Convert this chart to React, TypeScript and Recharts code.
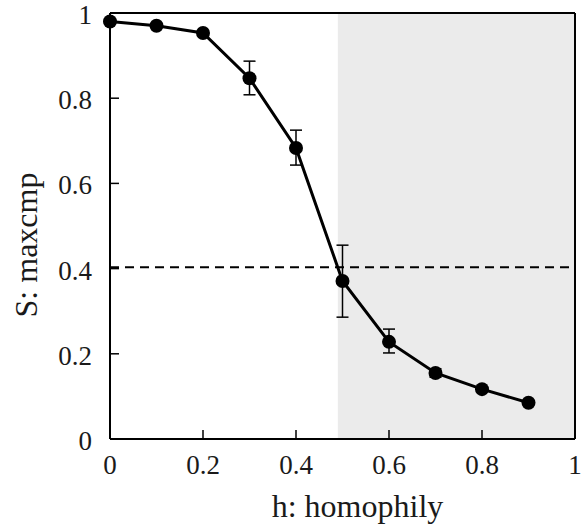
import React from "react";
import {
  ComposedChart,
  Line,
  XAxis,
  YAxis,
  ErrorBar,
  ReferenceArea,
  ReferenceLine,
  Label,
} from "recharts";

// h: homophily
const H = [0, 0.1, 0.2, 0.3, 0.4, 0.5, 0.6, 0.7, 0.8, 0.9];
// S: maxcmp (mean)
const S = [0.98, 0.97, 0.953, 0.847, 0.683, 0.371, 0.228, 0.155, 0.117, 0.085];
// error bar bounds
const S_LOW = [0.98, 0.97, 0.953, 0.808, 0.643, 0.286, 0.202, 0.145, 0.112, 0.081];
const S_HIGH = [0.98, 0.97, 0.953, 0.887, 0.725, 0.455, 0.258, 0.165, 0.122, 0.089];

const X_TICKS = [0, 0.2, 0.4, 0.6, 0.8, 1];
const Y_TICKS = [0, 0.2, 0.4, 0.6, 0.8, 1];
const THRESHOLD = 0.403;
const SHADE_FROM = 0.49;

const data = H.map((h, i) => ({
  h,
  s: S[i],
  err: [S[i] - S_LOW[i], S_HIGH[i] - S[i]],
}));

const FONT = "Liberation Serif";
const TEXT = "#1a1a1a";
const fmt = (v: number) => (v === 0 || v === 1 ? String(v) : v.toFixed(1));

// ticks point into the plot, labels sit outside
function XTick({ x, y, payload }: any) {
  return (
    <g>
      <line x1={x} y1={y} x2={x} y2={y - 9} stroke="#000" strokeWidth={1.5} />
      <text x={x} y={y + 35} textAnchor="middle" fontFamily={FONT} fontSize={27} fill={TEXT}>
        {fmt(payload.value)}
      </text>
    </g>
  );
}

function YTick({ x, y, payload }: any) {
  return (
    <g>
      <line x1={x} y1={y} x2={x + 9} y2={y} stroke="#000" strokeWidth={1.5} />
      <text x={x - 18} y={y + 11} textAnchor="end" fontFamily={FONT} fontSize={27} fill={TEXT}>
        {fmt(payload.value)}
      </text>
    </g>
  );
}

export default function App() {
  return (
    <div style={{ position: "absolute", left: 0, top: 0 }}>
      <ComposedChart
        width={585}
        height={527}
        data={data}
        margin={{ top: 13, right: 10, left: 0, bottom: 0 }}
      >
        <ReferenceArea
          x1={SHADE_FROM}
          x2={1}
          y1={0}
          y2={1}
          fill="#ebebeb"
          fillOpacity={1}
          stroke="none"
        />
        <ReferenceLine y={1} stroke="#000" strokeWidth={2} />
        <ReferenceLine x={1} stroke="#000" strokeWidth={2} />
        <ReferenceLine
          y={THRESHOLD}
          stroke="#000"
          strokeWidth={2}
          strokeDasharray="9 6"
        />
        <XAxis
          dataKey="h"
          type="number"
          domain={[0, 1]}
          ticks={X_TICKS}
          tick={<XTick />}
          tickLine={false}
          tickSize={0}
          tickMargin={0}
          height={88}
          axisLine={{ stroke: "#000", strokeWidth: 2 }}
        >
          <Label
            content={({ viewBox }: any) => (
              <text
                x={viewBox.x + viewBox.width / 2 + 15}
                y={viewBox.y + 78}
                textAnchor="middle"
                fontFamily={FONT}
                fontSize={32}
                fill={TEXT}
              >
                h: homophily
              </text>
            )}
          />
        </XAxis>
        <YAxis
          type="number"
          domain={[0, 1]}
          ticks={Y_TICKS}
          tick={<YTick />}
          tickLine={false}
          tickSize={0}
          tickMargin={0}
          width={110}
          axisLine={{ stroke: "#000", strokeWidth: 2 }}
        >
          <Label
            content={({ viewBox }: any) => {
              const cx = viewBox.x + 37;
              const cy = viewBox.y + viewBox.height / 2 + 19;
              return (
                <text
                  x={cx}
                  y={cy}
                  transform={`rotate(-90 ${cx} ${cy})`}
                  textAnchor="middle"
                  fontFamily={FONT}
                  fontSize={32}
                  fill={TEXT}
                >
                  S: maxcmp
                </text>
              );
            }}
          />
        </YAxis>
        <Line
          dataKey="s"
          stroke="#000"
          strokeWidth={3}
          dot={{ r: 7, fill: "#000", stroke: "#000", strokeWidth: 0 }}
          isAnimationActive={false}
        >
          <ErrorBar
            dataKey="err"
            direction="y"
            width={6}
            stroke="#000"
            strokeWidth={1.5}
            isAnimationActive={false}
          />
        </Line>
      </ComposedChart>
    </div>
  );
}
